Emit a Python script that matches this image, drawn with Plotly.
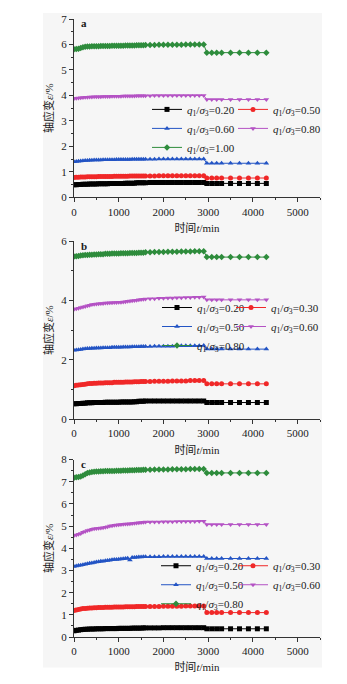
import plotly.graph_objects as go
from plotly.subplots import make_subplots

# ---------------- data ----------------
times = [0, 50, 100, 150, 200, 250, 300, 350, 400, 450, 500, 550, 600, 650, 700, 750,
         800, 850, 900, 950, 1000, 1050, 1100, 1150, 1200, 1250, 1300, 1350, 1400, 1450, 1500, 1550,
         1600, 1700, 1800, 1900, 2000, 2100, 2200, 2300, 2400, 2500, 2600, 2700, 2800, 2900,
         2970, 3080, 3190, 3300, 3500, 3700, 3900, 4100, 4300]

# panel a
a_020 = [0.50, 0.50, 0.51, 0.51, 0.52, 0.52, 0.52, 0.53, 0.53, 0.53, 0.53, 0.54, 0.54, 0.54, 0.54, 0.54,
         0.55, 0.55, 0.55, 0.55, 0.55, 0.55, 0.55, 0.56, 0.56, 0.56, 0.56, 0.56, 0.57, 0.57, 0.57, 0.57,
         0.57, 0.58, 0.58, 0.58, 0.58, 0.58, 0.58, 0.58, 0.58, 0.58, 0.58, 0.58, 0.58, 0.58,
         0.55, 0.55, 0.55, 0.55, 0.55, 0.55, 0.55, 0.55, 0.55]
a_050 = [0.78, 0.79, 0.79, 0.80, 0.80, 0.80, 0.81, 0.81, 0.81, 0.81, 0.81, 0.82, 0.82, 0.82, 0.82, 0.82,
         0.82, 0.82, 0.83, 0.83, 0.83, 0.83, 0.83, 0.83, 0.83, 0.84, 0.84, 0.84, 0.84, 0.84, 0.84, 0.84,
         0.84, 0.84, 0.84, 0.85, 0.85, 0.85, 0.85, 0.85, 0.85, 0.85, 0.85, 0.85, 0.85, 0.85,
         0.76, 0.76, 0.76, 0.76, 0.76, 0.76, 0.76, 0.76, 0.76]
a_060 = [1.40, 1.41, 1.42, 1.43, 1.44, 1.45, 1.45, 1.46, 1.46, 1.47, 1.47, 1.47, 1.47, 1.48, 1.48, 1.48,
         1.48, 1.48, 1.48, 1.49, 1.49, 1.49, 1.49, 1.49, 1.49, 1.49, 1.50, 1.50, 1.50, 1.50, 1.50, 1.50,
         1.50, 1.50, 1.50, 1.51, 1.51, 1.51, 1.51, 1.51, 1.51, 1.51, 1.51, 1.51, 1.51, 1.51,
         1.34, 1.34, 1.34, 1.34, 1.34, 1.34, 1.34, 1.34, 1.34]
a_080 = [3.88, 3.89, 3.90, 3.91, 3.92, 3.93, 3.93, 3.94, 3.94, 3.95, 3.95, 3.95, 3.95, 3.96, 3.96, 3.96,
         3.96, 3.97, 3.97, 3.97, 3.97, 3.97, 3.98, 3.98, 3.98, 3.98, 3.98, 3.98, 3.99, 3.99, 3.99, 3.99,
         3.99, 3.99, 4.00, 4.00, 4.00, 4.00, 4.00, 4.00, 4.00, 4.00, 4.00, 4.00, 4.00, 4.00,
         3.84, 3.84, 3.84, 3.84, 3.84, 3.84, 3.84, 3.84, 3.84]
a_100 = [5.81, 5.82, 5.83, 5.86, 5.89, 5.91, 5.92, 5.92, 5.93, 5.93, 5.93, 5.93, 5.94, 5.94, 5.94, 5.94,
         5.94, 5.95, 5.95, 5.95, 5.95, 5.95, 5.95, 5.96, 5.96, 5.96, 5.96, 5.96, 5.97, 5.97, 5.97, 5.97,
         5.98, 5.98, 5.98, 5.99, 5.99, 5.99, 5.99, 5.99, 5.99, 6.00, 6.00, 6.00, 6.00, 6.00,
         5.68, 5.68, 5.68, 5.68, 5.68, 5.68, 5.68, 5.68, 5.68]

# panel b
b_020 = [0.52, 0.52, 0.53, 0.53, 0.54, 0.54, 0.55, 0.55, 0.55, 0.56, 0.56, 0.56, 0.56, 0.56, 0.57, 0.57,
         0.57, 0.57, 0.57, 0.57, 0.57, 0.58, 0.58, 0.58, 0.58, 0.58, 0.58, 0.59, 0.59, 0.60, 0.60, 0.60,
         0.61, 0.61, 0.61, 0.61, 0.61, 0.61, 0.61, 0.61, 0.61, 0.61, 0.61, 0.61, 0.61, 0.61,
         0.56, 0.56, 0.56, 0.56, 0.56, 0.56, 0.56, 0.56, 0.56]
b_030 = [1.13, 1.14, 1.15, 1.16, 1.17, 1.18, 1.19, 1.20, 1.20, 1.21, 1.21, 1.22, 1.22, 1.22, 1.23, 1.23,
         1.23, 1.23, 1.24, 1.24, 1.24, 1.24, 1.24, 1.25, 1.25, 1.25, 1.25, 1.26, 1.26, 1.26, 1.27, 1.27,
         1.27, 1.27, 1.28, 1.28, 1.28, 1.28, 1.29, 1.29, 1.29, 1.29, 1.30, 1.30, 1.30, 1.30,
         1.19, 1.19, 1.19, 1.19, 1.19, 1.19, 1.19, 1.19, 1.19]
b_050 = [2.32, 2.33, 2.34, 2.35, 2.36, 2.37, 2.38, 2.38, 2.39, 2.39, 2.40, 2.40, 2.40, 2.41, 2.41, 2.41,
         2.41, 2.42, 2.42, 2.42, 2.42, 2.42, 2.43, 2.43, 2.43, 2.43, 2.44, 2.44, 2.44, 2.44, 2.45, 2.45,
         2.45, 2.45, 2.46, 2.46, 2.46, 2.46, 2.46, 2.47, 2.47, 2.47, 2.47, 2.47, 2.47, 2.48,
         2.36, 2.36, 2.36, 2.36, 2.36, 2.36, 2.36, 2.36, 2.36]
b_060 = [3.70, 3.72, 3.74, 3.76, 3.78, 3.80, 3.82, 3.84, 3.86, 3.87, 3.88, 3.89, 3.90, 3.90, 3.91, 3.91,
         3.92, 3.92, 3.93, 3.93, 3.94, 3.94, 3.95, 3.96, 3.97, 3.98, 3.99, 4.00, 4.01, 4.02, 4.03, 4.04,
         4.05, 4.06, 4.06, 4.07, 4.07, 4.08, 4.08, 4.09, 4.09, 4.10, 4.10, 4.11, 4.11, 4.12,
         4.02, 4.02, 4.02, 4.02, 4.02, 4.02, 4.02, 4.02, 4.02]
b_080 = [5.48, 5.49, 5.50, 5.51, 5.52, 5.53, 5.53, 5.54, 5.54, 5.55, 5.55, 5.56, 5.56, 5.56, 5.57, 5.57,
         5.57, 5.58, 5.58, 5.58, 5.58, 5.59, 5.59, 5.59, 5.59, 5.60, 5.60, 5.60, 5.60, 5.61, 5.61, 5.61,
         5.62, 5.62, 5.63, 5.63, 5.63, 5.64, 5.64, 5.64, 5.65, 5.65, 5.65, 5.66, 5.66, 5.66,
         5.46, 5.46, 5.46, 5.46, 5.46, 5.46, 5.46, 5.46, 5.46]

# panel c
c_020 = [0.28, 0.30, 0.31, 0.33, 0.34, 0.35, 0.35, 0.36, 0.36, 0.36, 0.37, 0.37, 0.37, 0.37, 0.38, 0.38,
         0.38, 0.38, 0.38, 0.38, 0.39, 0.39, 0.39, 0.39, 0.39, 0.39, 0.40, 0.40, 0.40, 0.40, 0.40, 0.41,
         0.41, 0.41, 0.41, 0.41, 0.42, 0.42, 0.42, 0.42, 0.42, 0.42, 0.42, 0.42, 0.42, 0.42,
         0.37, 0.37, 0.37, 0.37, 0.37, 0.37, 0.37, 0.37, 0.37]
c_030 = [1.20, 1.22, 1.24, 1.26, 1.28, 1.29, 1.30, 1.31, 1.31, 1.32, 1.32, 1.33, 1.33, 1.33, 1.34, 1.34,
         1.34, 1.34, 1.35, 1.35, 1.35, 1.35, 1.35, 1.36, 1.36, 1.36, 1.36, 1.36, 1.37, 1.37, 1.37, 1.37,
         1.38, 1.38, 1.38, 1.38, 1.39, 1.39, 1.39, 1.39, 1.39, 1.40, 1.40, 1.40, 1.40, 1.40,
         1.10, 1.10, 1.10, 1.10, 1.10, 1.10, 1.10, 1.10, 1.10]
c_050 = [3.18, 3.20, 3.22, 3.24, 3.26, 3.28, 3.30, 3.32, 3.34, 3.36, 3.38, 3.39, 3.41, 3.42, 3.44, 3.45,
         3.46, 3.48, 3.49, 3.50, 3.51, 3.52, 3.53, 3.54, 3.55, 3.47, 3.58, 3.59, 3.60, 3.61, 3.61, 3.62,
         3.62, 3.62, 3.62, 3.62, 3.63, 3.63, 3.63, 3.63, 3.63, 3.63, 3.63, 3.63, 3.63, 3.63,
         3.54, 3.54, 3.54, 3.54, 3.54, 3.54, 3.54, 3.54, 3.54]
c_060 = [4.58, 4.60, 4.63, 4.67, 4.72, 4.76, 4.80, 4.83, 4.86, 4.88, 4.89, 4.90, 4.92, 4.93, 4.95, 4.97,
         5.00, 5.02, 5.04, 5.05, 5.06, 5.07, 5.08, 5.09, 5.10, 5.11, 5.12, 5.13, 5.14, 5.15, 5.16, 5.17,
         5.18, 5.18, 5.19, 5.19, 5.20, 5.20, 5.20, 5.21, 5.21, 5.21, 5.21, 5.21, 5.22, 5.22,
         5.07, 5.07, 5.07, 5.07, 5.07, 5.07, 5.07, 5.07, 5.07]
c_080 = [7.18, 7.20, 7.22, 7.24, 7.28, 7.34, 7.39, 7.42, 7.44, 7.45, 7.46, 7.46, 7.47, 7.47, 7.48, 7.48,
         7.49, 7.49, 7.49, 7.50, 7.50, 7.50, 7.51, 7.51, 7.51, 7.52, 7.52, 7.52, 7.53, 7.53, 7.53, 7.54,
         7.54, 7.54, 7.55, 7.55, 7.55, 7.55, 7.56, 7.56, 7.56, 7.56, 7.57, 7.57, 7.57, 7.57,
         7.40, 7.40, 7.40, 7.40, 7.40, 7.40, 7.40, 7.40, 7.40]

ratios_a = ["0.20", "0.50", "0.60", "0.80", "1.00"]
ratios_bc = ["0.20", "0.30", "0.50", "0.60", "0.80"]
panel_labels = ["a", "b", "c"]
y_max = [7, 6, 8]
y_dtick = [1, 2, 1]
y_minor = [0.5, 1, 0.5]
x_ticks = [0, 1000, 2000, 3000, 4000, 5000]

panels = [
    [a_020, a_050, a_060, a_080, a_100],
    [b_020, b_030, b_050, b_060, b_080],
    [c_020, c_030, c_050, c_060, c_080],
]
panel_ratios = [ratios_a, ratios_bc, ratios_bc]

# ---------------- style ----------------
colors = ["#000000", "#f02828", "#2354c4", "#b452c4", "#2e8c3c"]
symbols = ["square", "circle", "triangle-up", "triangle-down", "diamond"]
SERIF = "Liberation Serif, Times New Roman, Noto Sans CJK SC, serif"
TXT = "#1a1a1a"
BG = "#f6f6f6"

W, H = 347, 684
ML, MR, MT, MB = 74, 27, 19, 38
PW, PH = W - ML - MR, H - MT - MB


def py(px):  # pixel y -> paper fraction
    return (H - MB - px) / PH


def px_(pxx):  # pixel x -> paper fraction
    return (pxx - ML) / PW


domains = [[py(200), 1.0], [py(425), py(244.3)], [0.0, py(466)]]
# (col1 left px, col2 left px, first-row centre px)
legend_px = [(147, 233, 110), (157, 231, 311), (156, 233, 573)]

fig = make_subplots(rows=3, cols=1)

for p in range(3):
    for k in range(5):
        col = k % 2
        lname = "legend" + ("" if (2 * p + col) == 0 else str(2 * p + col + 1))
        fig.add_trace(go.Scatter(
            x=times, y=panels[p][k], mode="lines+markers",
            name="<i>q</i><sub>1</sub>/<i>σ</i><sub>3</sub>=" + panel_ratios[p][k],
            line=dict(color=colors[k], width=1),
            marker=dict(symbol=symbols[k], size=5, color=colors[k], line=dict(width=0)),
            legend=lname,
        ), row=p + 1, col=1)

layout = dict(
    width=W, height=H, margin=dict(l=ML, r=MR, t=MT, b=MB),
    paper_bgcolor="white", plot_bgcolor=BG,
    font=dict(family=SERIF, size=11, color=TXT),
    showlegend=True,
)
for p in range(3):
    sfx = "" if p == 0 else str(p + 1)
    c1, c2, rowc = legend_px[p]
    for col, lx in enumerate([c1, c2]):
        idx = 2 * p + col
        lsfx = "" if idx == 0 else str(idx + 1)
        layout["legend" + lsfx] = dict(
            x=px_(lx), y=py(rowc - 14), xanchor="left", yanchor="top", orientation="v",
            bgcolor="rgba(0,0,0,0)", font=dict(family=SERIF, size=11, color=TXT),
            itemwidth=30, tracegroupgap=0,
        )
    layout["xaxis" + sfx] = dict(
        range=[0, 5500], tickvals=x_ticks, ticks="outside", ticklen=4, tickwidth=1,
        tickcolor="#333", showline=True, linecolor="#333", linewidth=1, showgrid=False,
        zeroline=False, minor=dict(dtick=500, ticks="outside", ticklen=2, tickcolor="#333", showgrid=False),
        tickfont=dict(family=SERIF, size=11, color=TXT),
        title=dict(text="时间<i>t</i>/min", font=dict(family=SERIF, size=11, color=TXT), standoff=7),
        domain=[0, 1],
    )
    layout["yaxis" + sfx] = dict(
        range=[0, y_max[p]], dtick=y_dtick[p], tick0=0, ticks="outside", ticklen=4, tickwidth=1,
        tickcolor="#333", showline=True, linecolor="#333", linewidth=1, showgrid=False,
        zeroline=False, minor=dict(dtick=y_minor[p], ticks="outside", ticklen=2, tickcolor="#333", showgrid=False),
        tickfont=dict(family=SERIF, size=11, color=TXT),
        title=dict(text="轴应变<i>ε</i>/%", font=dict(family=SERIF, size=11, color=TXT), standoff=5),
        domain=domains[p],
    )
fig.update_layout(**layout)

fig.add_shape(type="rect", xref="paper", yref="paper",
              x0=px_(43), x1=px_(322), y0=py(677), y1=py(13),
              fillcolor=BG, line=dict(width=0), layer="below")

for p in range(3):
    sfx = "" if p == 0 else str(p + 1)
    fig.add_annotation(text="<b>" + panel_labels[p] + "</b>", xref="x" + sfx + " domain",
                       yref="y" + sfx + " domain", x=0.04, y=0.975, showarrow=False,
                       xanchor="center", yanchor="middle",
                       font=dict(family=SERIF, size=11, color=TXT))

fig.write_html("out.html")
